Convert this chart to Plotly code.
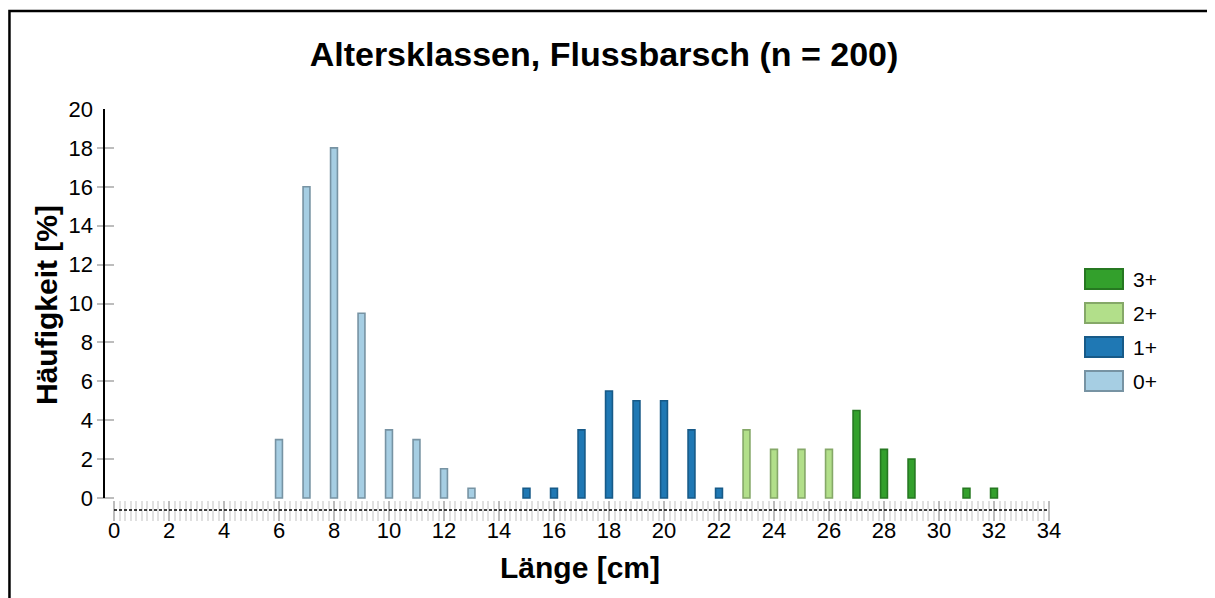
import plotly.graph_objects as go

# ---- data ----
classes = ["0+", "1+", "2+", "3+"]
x_0 = [6, 7, 8, 9, 10, 11, 12, 13]
y_0 = [3, 16, 18, 9.5, 3.5, 3, 1.5, 0.5]
x_1 = [15, 16, 17, 18, 19, 20, 21, 22]
y_1 = [0.5, 0.5, 3.5, 5.5, 5, 5, 3.5, 0.5]
x_2 = [23, 24, 25, 26]
y_2 = [3.5, 2.5, 2.5, 2.5]
x_3 = [27, 28, 29, 31, 32]
y_3 = [4.5, 2.5, 2, 0.5, 0.5]
fills = ["#a6cee3", "#1f78b4", "#b2df8a", "#33a02c"]
edges = ["#7793a3", "#175a88", "#85a868", "#267821"]
y_ticks = list(range(0, 21, 2))
x_ticks = list(range(0, 35, 2))

W, H = 1215, 598
OFF = 8  # page body margin
FONT = "Liberation Sans, Arial, Helvetica, sans-serif"

def px_x(p):
    return (p - OFF) / W

def px_y(p):
    return 1 - (p - OFF) / H

xs = [x_0, x_1, x_2, x_3]
ys = [y_0, y_1, y_2, y_3]

fig = go.Figure()
for name, xv, yv, fc, ec in zip(classes, xs, ys, fills, edges):
    fig.add_trace(go.Bar(
        x=xv, y=yv, name=name, width=0.25,
        marker=dict(color=fc, line=dict(color=ec, width=1.6)),
        showlegend=False,
    ))

shapes = []
annotations = []

# frame around chart (only left/top visible)
shapes.append(dict(type="rect", xref="paper", yref="paper",
                   x0=0.0012, x1=1.02, y0=-0.05, y1=px_y(11),
                   line=dict(color="black", width=2.5), layer="below"))
# y axis line
shapes.append(dict(type="line", xref="paper", yref="y",
                   x0=px_x(104), x1=px_x(104), y0=0, y1=20,
                   line=dict(color="black", width=2)))
# dashed x axis line
shapes.append(dict(type="line", xref="x", yref="paper",
                   x0=0, x1=34, y0=px_y(510), y1=px_y(510),
                   line=dict(color="black", width=1.6, dash="3px,2px")))

# custom legend (top to bottom: 3+, 2+, 1+, 0+)
leg_rows = [279, 313, 347, 381]
for i, idx in enumerate([3, 2, 1, 0]):
    cy = leg_rows[i]
    shapes.append(dict(type="rect", xref="paper", yref="paper",
                       x0=px_x(1085), x1=px_x(1123),
                       y0=px_y(cy + 10), y1=px_y(cy - 10),
                       fillcolor=fills[idx], line=dict(color=edges[idx], width=2)))
    annotations.append(dict(text=classes[idx], xref="paper", yref="paper",
                            x=px_x(1131), y=px_y(cy), xanchor="left", yanchor="middle",
                            showarrow=False, font=dict(size=21, color="black", family=FONT)))

# axis titles
annotations.append(dict(text="<b>Länge [cm]</b>", xref="paper", yref="paper",
                        x=px_x(580), y=px_y(567), xanchor="center", yanchor="middle",
                        showarrow=False, font=dict(size=30, color="black", family=FONT)))
annotations.append(dict(text="<b>Häufigkeit [%]</b>", xref="paper", yref="paper",
                        x=px_x(46), y=px_y(305), xanchor="center", yanchor="middle",
                        textangle=-90, showarrow=False,
                        font=dict(size=30, color="black", family=FONT)))

fig.update_layout(
    width=W, height=H, autosize=False,
    margin=dict(l=0, r=0, t=0, b=0, autoexpand=False),
    paper_bgcolor="white", plot_bgcolor="white",
    barmode="overlay",
    font=dict(family=FONT, color="black"),
    title=dict(text="<b>Altersklassen, Flussbarsch (n = 200)</b>",
               x=px_x(604), xanchor="center", y=px_y(54), yanchor="middle",
               xref="paper", yref="paper", automargin=False,
               font=dict(size=34, color="black", family=FONT)),
    xaxis=dict(
        domain=[px_x(114), px_x(1049)], range=[0, 34], automargin=False,
        tickvals=x_ticks, ticks="outside", ticklen=20, tickwidth=2,
        tickcolor="#bdbdbd", showgrid=False, zeroline=False, showline=False,
        tickfont=dict(size=22, color="black", family=FONT),
        ticklabelstandoff=-9,
        minor=dict(dtick=0.2, tick0=0, ticks="outside", ticklen=20,
                   tickwidth=1.5, tickcolor="#e0e0e0", showgrid=False),
    ),
    yaxis=dict(
        domain=[px_y(500), px_y(109)], range=[-0.103, 20], automargin=False,
        anchor="free", position=px_x(96),
        tickvals=y_ticks, ticks="inside", ticklen=17, tickwidth=2,
        tickcolor="#bdbdbd", showgrid=False, zeroline=False, showline=False,
        tickfont=dict(size=22, color="black", family=FONT),
        ticklabelstandoff=3,
    ),
    shapes=shapes,
    annotations=annotations,
)

fig.write_html("out.html")
